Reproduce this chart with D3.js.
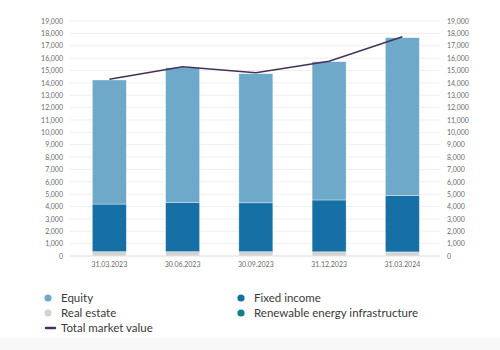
<!DOCTYPE html>
<html><head><meta charset="utf-8">
<script src="https://cdn.jsdelivr.net/npm/d3@7"></script>
<style>html,body{margin:0;padding:0;background:#fff;}svg{display:block;font-family:Lato,"Open Sans",sans-serif;}</style>
</head><body><div id="chart"></div>
<script>
const categories = ["31.03.2023","30.06.2023","30.09.2023","31.12.2023","31.03.2024"];
const realEstate = [350, 350, 350, 340, 330];
const fixedIncome = [3850, 3960, 3950, 4190, 4570];
const equity = [10030, 10910, 10440, 11180, 12750];
const renewable = [0, 0, 0, 0, 0];
const totalMarketValue = [14290, 15310, 14820, 15740, 17730];
const yTicks = d3.range(0, 19001, 1000);
const legendItems = [
  {name:"Equity", key:"equity", type:"dot"},
  {name:"Fixed income", key:"fixed", type:"dot"},
  {name:"Real estate", key:"re", type:"dot"},
  {name:"Renewable energy infrastructure", key:"ren", type:"dot"},
  {name:"Total market value", key:"total", type:"line"}
];
const colors = {equity:"#6fa9ca", fixed:"#1670a5", re:"#d3d3d3", ren:"#147e84", total:"#443159"};

const W=500,H=350;
const svg=d3.select("#chart").append("svg").attr("width",W).attr("height",H);
svg.append("rect").attr("x",0).attr("y",338).attr("width",W).attr("height",12).attr("fill","#f8f8f8");

const x=d3.scaleBand().domain(categories).range([72.7,439]).padding(0);
const y=d3.scaleLinear().domain([0,19000]).range([256,21]);
const barW=34;

// gridlines
svg.append("g").selectAll("line").data(yTicks).join("line")
  .attr("x1",70).attr("x2",440).attr("y1",d=>y(d)).attr("y2",d=>y(d))
  .attr("stroke",d=>d===0?"#dcdcdc":"#efefef").attr("stroke-width",1);

// axes
const yl=svg.append("g").attr("transform","translate(63,0)")
  .call(d3.axisLeft(y).tickValues(yTicks).tickSize(0).tickPadding(0).tickFormat(d3.format(",")));
const yr=svg.append("g").attr("transform","translate(447,0)")
  .call(d3.axisRight(y).tickValues(yTicks).tickSize(0).tickPadding(0).tickFormat(d3.format(",")));
const xa=svg.append("g").attr("transform","translate(0,260)")
  .call(d3.axisBottom(x).tickSize(0).tickPadding(0));
[yl,yr,xa].forEach(g=>{g.select(".domain").remove();g.selectAll("text").attr("fill","#6b6b6b").attr("font-size",7).attr("font-family","Lato, sans-serif");});
xa.selectAll("text").attr("dy","0.71em").attr("y",2);

// stacked bars
const rows=categories.map((c,i)=>({cat:c,re:realEstate[i],fixed:fixedIncome[i],equity:equity[i],ren:renewable[i]}));
const stack=d3.stack().keys(["re","fixed","equity","ren"])(rows);
svg.append("g").selectAll("g").data(stack).join("g").attr("fill",d=>colors[d.key])
  .selectAll("rect").data(d=>d).join("rect")
  .attr("x",d=>x(d.data.cat)+x.bandwidth()/2-barW/2).attr("width",barW)
  .attr("y",d=>y(d[1])).attr("height",d=>Math.max(0,y(d[0])-y(d[1])))
  .attr("stroke","#ffffff").attr("stroke-opacity",0.6).attr("stroke-width",d=>d[1]-d[0]>0?0.6:0);

// total line
const line=d3.line().x((d,i)=>x(categories[i])+x.bandwidth()/2).y(d=>y(d));
svg.append("path").datum(totalMarketValue).attr("d",line).attr("fill","none")
  .attr("stroke",colors.total).attr("stroke-width",1.5);

// legend
const pos=[[48,298],[241,298],[48,313],[241,313],[48,328]];
const lg=svg.append("g");
legendItems.forEach((it,i)=>{
  const [lx,ly]=pos[i];
  if(it.type==="dot") lg.append("circle").attr("cx",lx).attr("cy",ly).attr("r",3.6).attr("fill",colors[it.key]);
  else lg.append("line").attr("x1",lx-2).attr("x2",lx+7).attr("y1",ly).attr("y2",ly).attr("stroke",colors[it.key]).attr("stroke-width",2.5).attr("stroke-linecap","round");
  lg.append("text").attr("x",lx+13).attr("y",ly).attr("dy","0.35em").attr("font-size",11.5).attr("fill","#3a3a3a").text(it.name);
});
</script></body></html>
